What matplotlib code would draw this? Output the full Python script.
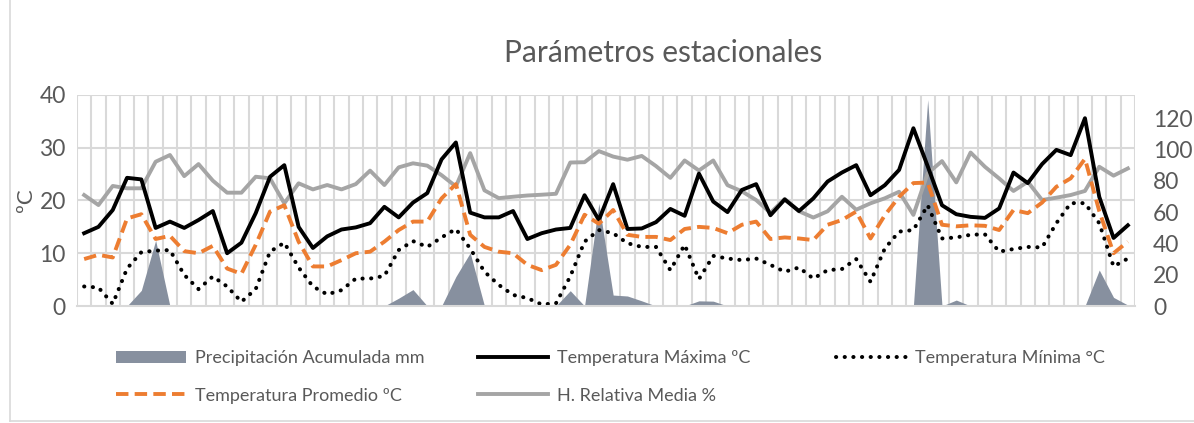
import numpy as np
import matplotlib
matplotlib.use("Agg")
import matplotlib.pyplot as plt
from matplotlib.patches import Patch
from matplotlib.lines import Line2D

plt.rcParams['font.family'] = ['Lato', 'DejaVu Sans']

# daily data
t_max = [13.8, 15.0, 18.2, 24.3, 24.0, 14.8, 16.0, 14.8, 16.3, 18.0, 10.0, 12.0, 17.6, 24.5, 26.7,
         15.0, 11.0, 13.2, 14.5, 14.9, 15.7, 18.8, 16.8, 19.6, 21.4,
         27.8, 31.0, 17.7, 16.8, 16.8, 18.0, 12.7, 13.8, 14.5, 14.8,
         21.0, 16.3, 23.1, 14.6, 14.7, 15.9, 18.4, 17.1, 25.1, 19.8, 17.8, 22.0, 23.1, 17.2, 20.2,
         18.0, 20.4, 23.6, 25.3, 26.7, 21.0, 22.9, 25.8, 33.7, 26.5, 19.1, 17.4,
         16.9, 16.7, 18.5, 25.3, 23.3, 26.9, 29.6, 28.6, 35.6, 20.7, 12.9, 15.3]
t_min = [3.7, 3.5, 0.4, 7.1, 10.2, 10.5, 10.6, 5.9, 3.2, 5.6, 3.7, 0.8, 3.2, 10.3, 12.0,
         7.3, 3.7, 2.2, 3.0, 5.2, 5.2, 5.7, 10.6, 12.3, 11.2, 13.0, 14.6, 10.9, 6.5, 4.0,
         2.1, 1.5, 0.3, 0.5, 5.6, 12.2, 14.4, 13.8, 11.9, 11.2, 11.2, 6.8, 11.6, 5.1, 9.5,
         9.0, 8.7, 9.0, 7.8, 6.5, 7.3, 5.2, 6.8, 7.0, 8.9, 4.6, 10.9, 14.1, 14.4, 19.1,
         12.8, 13.0, 13.5, 13.6, 10.3, 10.8, 11.2, 11.1, 15.7, 19.5, 19.5, 15.7, 7.5, 9.0]
t_prom = [8.9, 9.7, 9.2, 16.6, 17.4, 12.7, 13.3, 10.4, 10.0, 11.4, 7.1, 6.1,
          11.6, 17.9, 19.1, 12.2, 7.5, 7.5, 8.7, 10.0, 10.3, 12.2, 14.4, 16.0, 16.0,
          20.4, 23.1, 13.5, 11.2, 10.3, 10.0, 7.8, 6.8, 7.8, 11.6, 17.3, 15.6, 18.2,
          13.5, 13.1, 13.1, 12.5, 14.6, 15.0, 14.8, 13.8, 15.4, 16.0, 12.7, 13.0,
          12.8, 12.5, 15.4, 16.3, 17.9, 12.8, 17.2, 20.7, 23.3, 23.4, 15.4, 15.1,
          15.3, 15.2, 14.4, 18.2, 17.6, 19.6, 22.6, 24.2, 27.9, 18.0, 10.0, 12.2]
hr_media = [71.0, 64.6, 76.8, 75.3, 75.3, 92.3, 96.6, 83.1, 90.8, 80.2, 72.5, 72.5, 82.7, 81.7, 65.7, 78.5,
            74.6, 77.4, 74.6, 78.0, 86.6, 77.4, 88.7, 91.3, 89.8, 83.7, 76.5, 97.8, 74.0, 69.0,
            69.9, 70.7, 71.2, 71.8, 91.8, 92.0,
            99.1, 95.6, 93.6, 96.0, 89.5, 82.0, 93.1, 86.7, 93.1, 77.3, 73.4, 67.8, 59.6, 68.5,
            60.6, 56.6, 60.6, 69.9, 61.6, 65.7, 68.9, 73.1, 58.3, 84.9, 92.7, 79.1,
            98.2, 89.1, 81.6, 73.6, 79.5, 67.8, 69.3, 71.0, 73.6, 89.1, 83.4, 88.0]
precip = [0, 0, 0, 0, 10, 42, 0, 0, 0, 0, 0, 0, 0, 0, 0, 0, 0, 0, 0, 0, 0, 0, 5, 10.5,
          0, 0, 18.8, 34, 0, 0, 0, 0, 0, 0, 9.8, 0, 65.7, 7, 6.4, 3.3, 0, 0, 0, 3.3, 3.1,
          0, 0, 0, 0, 0, 0, 0, 0, 0, 0, 0, 0, 0, 0, 132, 0, 3.8, 0, 0, 0, 0, 0, 0, 0, 0,
          0, 23, 5.5, 0.6]

x = np.arange(len(t_max))
txt = '#595959'
grid = '#d9d9d9'

fig = plt.figure(figsize=(11.94, 4.23), dpi=100)
ax = fig.add_axes([77/1194, 1-306/423, (1135-77)/1194, (306-95)/423])
ax2 = ax.twinx()

# grid drawn on the back axes
for b in np.arange(-0.5, len(x), 1):
    ax2.axvline(b, color=grid, lw=1.5, zorder=0)
for v in [10, 20, 30, 40]:
    ax2.axhline(v*135/40, color=grid, lw=1.5, zorder=0)

# area + humidity on the right axis, temperatures on the left one (drawn on top)
ax2.fill_between(x, precip, color='#87909f', lw=0, zorder=1)
ax2.plot(x, hr_media, color='#a5a5a5', lw=2.8, zorder=2)
ax.plot(x, t_max, color='black', lw=2.8)
ax.plot(x, t_min, color='black', lw=2.9, linestyle=(0, (0.05, 2.1)), dash_capstyle='round')
ax.plot(x, t_prom, color='#ed7d31', lw=2.8, linestyle=(0, (3.2, 1.6)))
ax.set_zorder(ax2.get_zorder()+1)
ax.patch.set_visible(False)

ax.set_xlim(-0.5, len(x)-0.5)
ax.set_ylim(0, 40)
ax2.set_ylim(0, 135)
ax.set_yticks([0, 10, 20, 30, 40])
ax2.set_yticks([0, 20, 40, 60, 80, 100, 120])
ax.set_xticks([])

for s in ['top', 'right', 'left', 'bottom']:
    ax.spines[s].set_visible(False)
    ax2.spines[s].set_visible(False)
ax.spines['bottom'].set_visible(True)
ax.spines['bottom'].set_color(grid)
ax.spines['bottom'].set_linewidth(1.5)

ax.tick_params(axis='both', length=0, labelsize=16.5, labelcolor=txt, pad=8)
ax2.tick_params(axis='both', length=0, labelsize=16.5, labelcolor=txt, pad=13)

ax.set_ylabel('ºC', fontsize=16, color=txt)
ax.yaxis.set_label_coords(-0.039, 0.5)

fig.text(663/1194, 1-53/423, 'Parámetros estacionales', fontsize=21.5, color=txt,
         ha='center', va='center')

h_pp = Patch(color='#87909f', lw=0)
h_max = Line2D([], [], color='black', lw=2.8)
h_min = Line2D([], [], color='black', lw=2.9, linestyle=(0, (0.05, 2.1)), dash_capstyle='round')
h_prom = Line2D([], [], color='#ed7d31', lw=2.8, linestyle=(0, (3.2, 1.6)))
h_hr = Line2D([], [], color='#a5a5a5', lw=2.8)

leg_kw = dict(frameon=False, fontsize=13, labelcolor=txt, handlelength=3.9,
              handleheight=0.65, handletextpad=0.45, labelspacing=1.2, loc='upper left',
              borderaxespad=0, borderpad=0)
top = 1-350/423
fig.legend([h_pp, h_prom], ['Precipitación Acumulada mm', 'Temperatura Promedio ºC'],
           bbox_to_anchor=(116/1194, top), **leg_kw)
fig.legend([h_max, h_hr], ['Temperatura Máxima ºC', 'H. Relativa Media %'],
           bbox_to_anchor=(478/1194, top), **leg_kw)
fig.legend([h_min], ['Temperatura Mínima °C'],
           bbox_to_anchor=(836/1194, top), **leg_kw)

# chart frame (left and bottom edges visible in the crop)
fig.add_artist(Line2D([10/1194, 10/1194], [2/423, 1], transform=fig.transFigure, color=grid, lw=1.2))
fig.add_artist(Line2D([10/1194, 1], [2/423, 2/423], transform=fig.transFigure, color=grid, lw=1.2))

fig.savefig('out.png', dpi=100)
